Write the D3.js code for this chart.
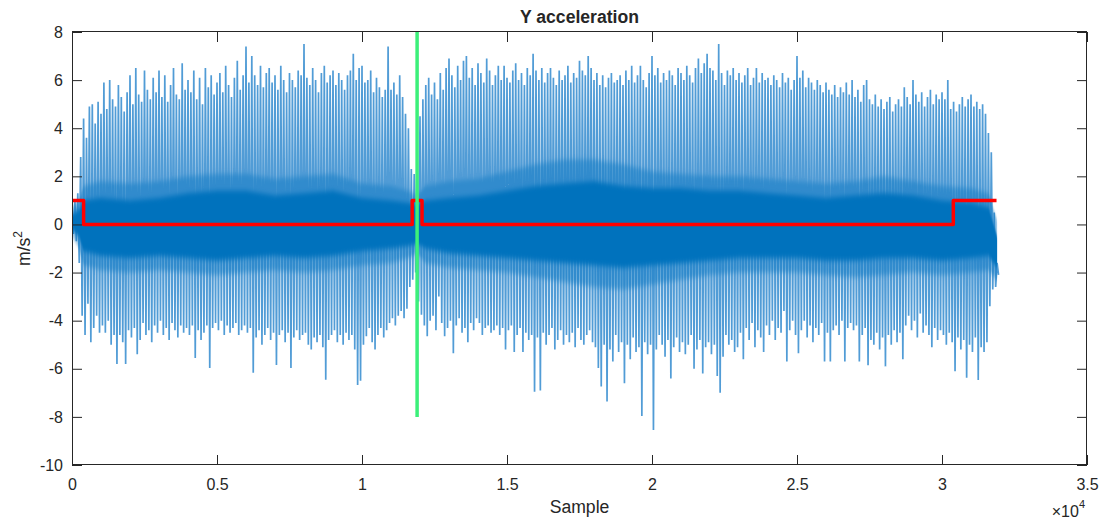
<!DOCTYPE html>
<html>
<head>
<meta charset="utf-8">
<script src="https://cdn.jsdelivr.net/npm/d3@7"></script>
<style>
  html, body { margin: 0; padding: 0; background: #fff; }
  svg { display: block; }
  text { font-family: "Liberation Sans", Arial, Helvetica, sans-serif; fill: #262626; }
</style>
</head>
<body>
<svg id="chart" width="1105" height="521"></svg>
<script>
// Y-axis acceleration, stored as per-bin envelopes (100 samples per bin)
const binSize = 100;

const sigHigh = [
  0.6, 1.0, 1.3, 2.8, 4.4, 3.6, 4.9, 5.0, 4.2, 5.1,
  4.6, 5.9, 4.8, 6.0, 5.2, 4.9, 5.8, 5.3, 4.7, 5.5,
  6.2, 5.0, 6.5, 5.4, 5.1, 6.4, 5.6, 5.2, 6.1, 5.5,
  6.4, 5.3, 6.2, 5.1, 5.8, 6.5, 5.4, 5.2, 6.7, 5.6,
  6.0, 5.5, 6.4, 5.2, 6.1, 5.0, 6.5, 5.7, 6.2, 5.4,
  5.9, 6.3, 5.5, 6.6, 5.8, 5.3, 6.1, 6.8, 5.6, 6.2,
  7.4, 5.9, 7.0, 6.2, 5.8, 6.6, 5.7, 6.3, 6.5, 5.9,
  6.2, 5.6, 6.6, 6.0, 5.5, 6.3, 6.0, 5.7, 6.4, 6.2,
  7.5, 6.1, 5.8, 6.5, 6.0, 5.5, 6.3, 6.6, 5.9, 6.2,
  6.4, 5.8, 6.3, 6.0, 5.6, 6.2, 6.4, 7.1, 6.0, 6.5,
  6.6, 5.9, 6.0, 6.4, 5.5, 6.1, 5.7, 5.3, 5.6, 7.4,
  5.6, 5.9, 5.4, 6.2, 5.3, 4.6, 4.0, 2.3, 2.1, 3.0,
  4.5, 5.2, 5.8, 6.1, 5.4, 5.9, 5.2, 6.3, 5.6, 6.5,
  6.9, 6.2, 5.7, 6.6, 6.0, 6.8, 7.0, 6.1, 6.5, 5.8,
  6.7, 6.3, 5.9, 6.9, 6.4, 5.8, 6.2, 6.6, 6.0, 6.6,
  6.1, 5.9, 6.4, 6.7, 6.0, 6.3, 5.8, 6.5, 6.2, 7.1,
  6.4, 6.0, 6.5, 5.9, 6.3, 6.5, 6.1, 5.8, 6.4, 6.0,
  6.2, 6.6, 5.9, 6.3, 6.1, 6.8, 6.4, 6.2, 7.0, 6.5,
  6.0, 6.3, 5.8, 6.2, 5.7, 6.1, 6.3, 5.9, 6.0, 6.2,
  5.8, 6.4, 6.0, 6.6, 5.9, 6.2, 6.6, 6.0, 5.7, 6.3,
  7.0, 6.2, 6.5, 5.9, 6.3, 6.0, 6.4, 6.2, 5.8, 6.5,
  6.3, 6.0, 6.6, 6.2, 5.9, 6.5, 6.9, 6.3, 6.7, 7.1,
  6.5, 6.4, 6.0, 7.5, 6.3, 5.8, 6.4, 6.2, 6.5, 6.0,
  6.3, 5.9, 6.2, 6.5, 5.8, 6.1, 6.5, 5.9, 6.3, 6.0,
  6.1, 5.8, 6.2, 6.0, 5.7, 6.3, 5.9, 6.1, 5.6, 6.0,
  7.0, 6.1, 6.4, 5.7, 6.1, 5.9, 5.6, 6.0, 5.8, 5.5,
  5.9, 5.6, 5.4, 5.8, 5.3, 5.7, 5.5, 5.9, 5.4, 6.0,
  5.3, 5.6, 5.1, 5.8, 6.0, 5.2, 5.0, 5.4, 4.9, 5.2,
  4.8, 5.1, 5.3, 4.7, 5.0, 5.2, 4.9, 5.7, 5.3, 5.0,
  6.0, 5.4, 5.1, 5.5, 4.9, 5.3, 5.6, 5.0, 5.4, 5.2,
  5.5, 5.2, 6.0, 4.8, 5.1, 4.7, 5.0, 5.3, 4.9, 5.2,
  5.4, 4.9, 5.1, 4.8, 5.0, 4.6, 3.8, 3.0, 0.5, -1.6
];

const sigLow = [
  -0.4, -0.7, -1.6, -3.8, -4.6, -3.3, -4.9, -4.3, -3.8, -4.5,
  -4.2, -4.5, -4.0, -5.0, -4.6, -5.8, -4.6, -4.9, -5.8, -4.4,
  -4.7, -4.3, -5.4, -4.8, -4.1, -4.6, -4.4, -4.9, -4.2, -4.5,
  -4.0, -4.6, -4.3, -4.8, -4.1, -4.4, -4.7, -4.2, -4.5, -4.3,
  -4.6, -4.2, -5.55, -4.4, -4.8, -4.5, -4.2, -5.97, -4.3, -4.1,
  -4.4, -4.0, -4.6, -4.2, -4.5, -4.3, -4.1, -4.6, -4.4, -4.2,
  -4.5, -4.3, -6.17, -4.7, -4.4, -5.0, -4.6, -4.3, -4.8, -4.5,
  -5.84, -4.6, -4.4, -4.9, -4.5, -5.97, -4.7, -4.4, -4.8, -4.6,
  -4.5, -5.0, -5.2, -4.7, -4.9, -4.6, -5.1, -6.46, -4.8, -4.6,
  -4.4, -4.9, -4.6, -5.0, -4.5, -4.8, -4.6, -5.2, -6.67, -6.5,
  -5.0, -4.65, -4.3, -4.9, -5.2, -4.6, -4.3, -4.7, -4.4, -4.1,
  -3.9, -4.2, -3.8, -3.6, -3.9, -3.5, -2.6, -2.3, -2.0, -3.2,
  -3.75, -4.2, -4.65, -4.0, -3.8, -4.4, -3.0, -4.1, -4.65, -4.3,
  -4.0, -5.35, -4.2, -3.9, -4.5, -4.3, -4.9, -4.1, -4.4, -3.9,
  -4.1, -4.6, -4.3, -4.2, -4.5, -4.4, -4.2, -4.6, -4.3, -5.2,
  -4.4, -4.2, -5.3, -4.6, -4.3, -5.3, -4.5, -4.8, -4.6, -6.95,
  -4.7, -6.9, -4.5, -5.0, -4.6, -4.3, -5.2, -4.8, -4.4, -5.0,
  -4.6, -4.9, -4.5, -5.1, -4.3, -4.8, -5.0, -4.6, -4.4, -4.9,
  -5.1, -5.97, -6.74, -5.0, -7.36, -5.2, -5.7, -4.6, -5.3, -4.9,
  -6.6, -5.0, -5.6, -4.7, -5.3, -5.1, -7.96, -4.9, -5.4, -5.0,
  -8.54, -5.2, -4.6, -5.0, -5.5, -4.8, -6.4, -5.1, -4.7, -5.3,
  -4.9, -5.4, -5.0, -4.6, -6.0, -5.2, -4.8, -6.2, -5.1, -4.9,
  -5.4, -5.0, -6.3, -7.0, -5.5, -4.6, -5.0, -4.8, -5.3, -5.1,
  -4.5, -5.6, -4.3, -4.8, -4.1, -5.1, -4.4, -4.7, -5.3, -4.2,
  -4.6, -4.0, -4.8, -4.3, -4.5, -3.6, -5.7, -4.4, -4.0, -4.6,
  -5.35, -4.4, -4.0, -4.7, -4.2, -4.9, -4.3, -4.6, -4.1, -5.7,
  -4.5, -5.7, -4.4, -4.2, -4.6, -4.0, -5.7, -4.3, -4.1, -4.4,
  -4.2, -5.7, -4.6, -4.3, -5.85, -4.8, -5.0, -4.5, -5.2, -4.7,
  -5.9, -4.6, -5.0, -4.4, -4.9, -4.5, -5.6, -4.2, -3.8, -4.4,
  -4.0, -4.7, -3.7, -4.5, -4.2, -4.6, -5.1, -4.3, -4.8, -4.4,
  -4.6, -5.0, -4.5, -4.9, -6.1, -4.7, -5.2, -4.8, -6.37, -5.0,
  -5.3, -4.7, -6.47, -5.1, -5.3, -4.9, -3.4, -2.7, -2.6, -2.1
];

// Dense central band of the signal: solid core and the looser halo around it
const coreSamples = [0, 250, 400, 1000, 2000, 3000, 4000, 5000, 6000, 7000, 8000, 9000, 10000, 11000,
  11600, 11900, 12200, 13000, 14000, 15000, 16000, 17000, 18000, 19000, 20000, 21000, 22000, 23000,
  24000, 25000, 26000, 27000, 28000, 29000, 30000, 31000, 31600, 31900];
const coreTop = [0.4, 0.6, 1.0, 1.1, 1.0, 1.1, 1.3, 1.4, 1.4, 1.2, 1.3, 1.4, 1.1, 1.0,
  0.9, 0.8, 1.0, 1.1, 1.2, 1.4, 1.6, 1.7, 1.8, 1.6, 1.5, 1.5, 1.4, 1.4,
  1.3, 1.2, 1.1, 1.2, 1.3, 1.2, 1.0, 0.9, 0.7, -0.5];
const coreBottom = [-0.2, -0.5, -1.1, -1.3, -1.4, -1.3, -1.4, -1.5, -1.4, -1.3, -1.4, -1.3, -1.1, -1.0,
  -0.9, -0.8, -1.0, -1.2, -1.3, -1.4, -1.5, -1.6, -1.7, -1.8, -1.7, -1.6, -1.5, -1.4,
  -1.4, -1.4, -1.5, -1.5, -1.4, -1.4, -1.5, -1.4, -1.3, -1.8];
const haloTop = [0.7, 1.0, 1.6, 1.8, 1.7, 1.8, 2.0, 2.1, 2.1, 1.9, 2.0, 2.1, 1.7, 1.6,
  1.4, 1.2, 1.6, 1.8, 1.9, 2.2, 2.5, 2.7, 2.7, 2.5, 2.2, 2.1, 2.0, 2.0,
  1.9, 1.8, 1.7, 1.8, 2.0, 1.8, 1.6, 1.5, 1.3, 0.2];
const haloBottom = [-0.5, -1.0, -1.7, -1.9, -2.0, -1.9, -2.0, -2.1, -2.0, -1.9, -2.0, -1.9, -1.7, -1.6,
  -1.4, -1.2, -1.6, -1.8, -1.9, -2.0, -2.2, -2.4, -2.6, -2.7, -2.5, -2.3, -2.1, -2.0,
  -2.0, -2.0, -2.1, -2.2, -2.1, -2.0, -2.1, -2.0, -1.9, -2.3];

// Activity flag (red step line)
const stepSamples = [0, 400, 11730, 12070, 30390, 31880];
const stepLevels  = [1, 0, 1, 0, 1, 1];

// Marker (green vertical line)
const markerSample = 11900;
const markerRange = [-8, 8];

const xTickValues = [0, 5000, 10000, 15000, 20000, 25000, 30000, 35000];
const yTickValues = [-10, -8, -6, -4, -2, 0, 2, 4, 6, 8];

const svg = d3.select("#chart");
const L = 72, R = 1087, T = 32, B = 465;

const x = d3.scaleLinear().domain([0, 35000]).range([L, R]);
const y = d3.scaleLinear().domain([-10, 8]).range([B, T]);

const defs = svg.append("defs");
defs.append("clipPath").attr("id", "plotClip")
  .append("rect").attr("x", L).attr("y", T).attr("width", R - L).attr("height", B - T);
defs.append("filter").attr("id", "softV").attr("x", "-5%").attr("y", "-30%").attr("width", "110%").attr("height", "160%")
  .append("feGaussianBlur").attr("stdDeviation", "0.4 2.6");

const plot = svg.append("g").attr("clip-path", "url(#plotClip)");

// signal: each bin swings from its high to its low
const sigPoints = [];
sigHigh.forEach((h, i) => {
  sigPoints.push({ s: i * binSize, v: h });
  sigPoints.push({ s: i * binSize + binSize / 2, v: sigLow[i] });
});
plot.append("path")
  .datum(sigPoints)
  .attr("fill", "none")
  .attr("stroke", "#519CD6")
  .attr("stroke-width", 1.7)
  .attr("d", d3.line().x(d => x(d.s)).y(d => y(d.v)));

// halo and core of the dense band
const bandArea = d3.area().x(d => x(d.s)).y0(d => y(d.bot)).y1(d => y(d.top));
const haloData = coreSamples.map((s, i) => ({ s, top: haloTop[i], bot: haloBottom[i] }));
const coreData = coreSamples.map((s, i) => ({ s, top: coreTop[i], bot: coreBottom[i] }));
plot.append("path")
  .datum(haloData)
  .attr("fill", "#0072BD").attr("fill-opacity", 0.4)
  .attr("filter", "url(#softV)")
  .attr("d", bandArea);
plot.append("path")
  .datum(coreData)
  .attr("fill", "#0072BD")
  .attr("filter", "url(#softV)")
  .attr("d", bandArea);

// red step line
const stepData = stepSamples.map((s, i) => ({ s, v: stepLevels[i] }));
plot.append("path")
  .datum(stepData)
  .attr("fill", "none")
  .attr("stroke", "#FF0000")
  .attr("stroke-width", 3.5)
  .attr("stroke-linejoin", "round")
  .attr("d", d3.line().x(d => x(d.s)).y(d => y(d.v)).curve(d3.curveStepAfter));

// green marker
plot.append("line")
  .attr("x1", x(markerSample)).attr("x2", x(markerSample))
  .attr("y1", y(markerRange[0])).attr("y2", y(markerRange[1]))
  .attr("stroke", "#3CF07A")
  .attr("stroke-width", 3.5);

// axes with inward ticks on all four sides
const fmtY = d => String(d);
const fmtX = d => String(d / 1e4);

const gx = svg.append("g").attr("transform", `translate(0,${B})`)
  .call(d3.axisBottom(x).tickValues(xTickValues).tickSize(-10).tickPadding(13.5).tickFormat(fmtX));
const gxt = svg.append("g").attr("transform", `translate(0,${T})`)
  .call(d3.axisTop(x).tickValues(xTickValues).tickSize(-10).tickFormat(""));
const gy = svg.append("g").attr("transform", `translate(${L},0)`)
  .call(d3.axisLeft(y).tickValues(yTickValues).tickSize(-10).tickPadding(9).tickFormat(fmtY));
const gyr = svg.append("g").attr("transform", `translate(${R},0)`)
  .call(d3.axisRight(y).tickValues(yTickValues).tickSize(-10).tickFormat(""));

[gx, gxt, gy, gyr].forEach(g => {
  g.select(".domain").remove();
  g.selectAll(".tick line").attr("stroke", "#262626").attr("stroke-width", 1);
  g.selectAll(".tick text").attr("font-size", 16).attr("fill", "#262626")
    .attr("font-family", '"Liberation Sans", Arial, Helvetica, sans-serif');
});

svg.append("rect")
  .attr("x", L + 0.5).attr("y", T - 0.5).attr("width", R - L - 1).attr("height", B - T)
  .attr("fill", "none").attr("stroke", "#262626").attr("stroke-width", 1);

// title and labels
svg.append("text")
  .attr("x", (L + R) / 2).attr("y", 23)
  .attr("text-anchor", "middle").attr("font-size", 17.6).attr("font-weight", "bold")
  .text("Y acceleration");

svg.append("text")
  .attr("x", (L + R) / 2).attr("y", 513)
  .attr("text-anchor", "middle").attr("font-size", 17.6)
  .text("Sample");

const yl = svg.append("text")
  .attr("transform", `translate(30,${(T + B) / 2}) rotate(-90)`)
  .attr("text-anchor", "middle").attr("font-size", 17.6);
yl.append("tspan").text("m/s");
yl.append("tspan").attr("font-size", 12).attr("dy", -8).text("2");

const ex = svg.append("text")
  .attr("x", 1085).attr("y", 517)
  .attr("text-anchor", "end").attr("font-size", 16);
ex.append("tspan").text("\u00D710");
ex.append("tspan").attr("font-size", 11).attr("dy", -9).text("4");
</script>
</body>
</html>
